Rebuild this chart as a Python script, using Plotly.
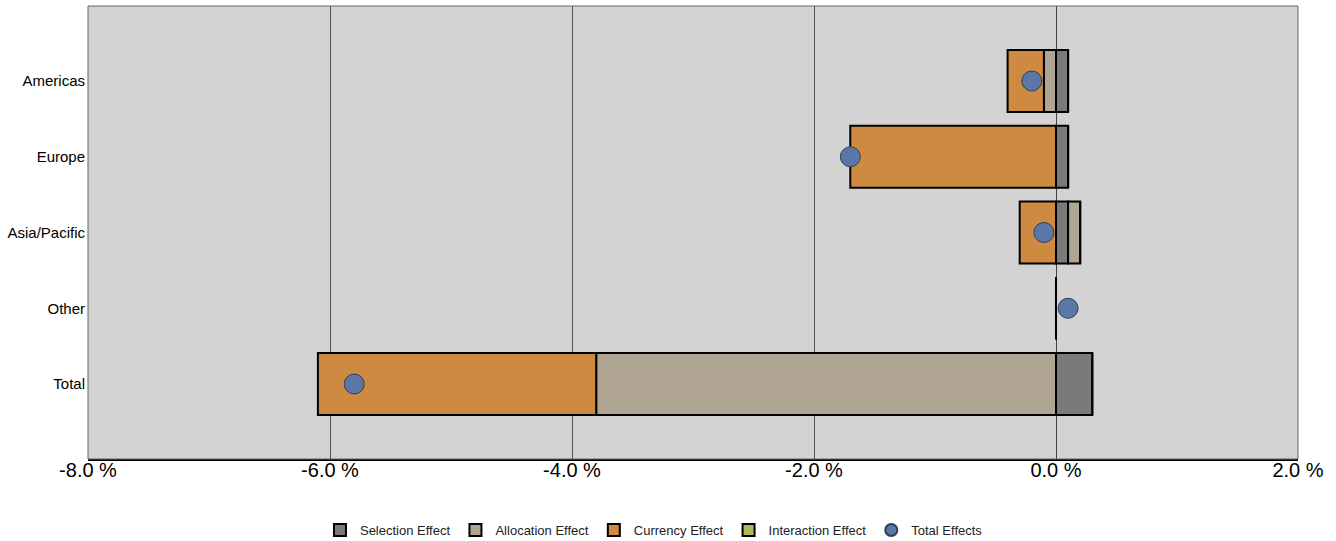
import plotly.graph_objects as go

categories = ["Americas", "Europe", "Asia/Pacific", "Other", "Total"]
selection = [0.1, 0.1, 0.1, 0.0, 0.3]
allocation = [-0.1, 0.0, 0.1, 0.0, -3.8]
currency = [-0.3, -1.7, -0.3, 0.0, -2.3]
interaction = [0.0, 0.0, 0.0, 0.0, 0.0]
total = [-0.2, -1.7, -0.1, 0.1, -5.8]

tick_vals = [-8, -6, -4, -2, 0, 2]
tick_text = ["-8.0 %", "-6.0 %", "-4.0 %", "-2.0 %", "0.0 %", "2.0 %"]

font_main = "Liberation Sans, Arial, sans-serif"

fig = go.Figure()
series = [
    ("Selection Effect", selection, "#7a7a7a"),
    ("Allocation Effect", allocation, "#afa592"),
    ("Currency Effect", currency, "#cd8a40"),
    ("Interaction Effect", interaction, "#abba5a"),
]
for name, vals, col in series:
    fig.add_trace(go.Bar(
        y=categories, x=vals, name=name, orientation="h", width=0.82,
        marker=dict(color=col, line=dict(color="black", width=2)),
    ))
fig.add_trace(go.Scatter(
    y=categories, x=total, name="Total Effects", mode="markers",
    marker=dict(color="#5b77a6", size=20, line=dict(color="#2e3e5c", width=1)),
))

fig.update_layout(
    width=1336, height=541,
    barmode="relative",
    paper_bgcolor="white", plot_bgcolor="#d3d3d3",
    margin=dict(l=88, r=38, t=6, b=82, autoexpand=False),
    showlegend=True,
    legend=dict(orientation="h", x=0.4895, xanchor="center", xref="container",
                y=-0.157, yanchor="middle", font=dict(family=font_main, size=13, color="#222"),
                itemsizing="constant", traceorder="normal"),
    xaxis=dict(range=[-8, 2], tickvals=tick_vals, ticktext=tick_text,
               showgrid=True, gridcolor="#555555", gridwidth=1,
               zeroline=True, zerolinecolor="#444444", zerolinewidth=1,
               showline=True, linecolor="black", linewidth=1.5,
               tickfont=dict(family=font_main, size=20, color="black"),
               ticks="", ticklabelstandoff=-8, automargin=False),
    yaxis=dict(type="category", categoryorder="array", categoryarray=categories,
               range=[4.99, -0.99], showgrid=False, zeroline=False,
               tickfont=dict(family=font_main, size=15, color="black"),
               ticks="", ticklabelstandoff=2, automargin=False),
    shapes=[dict(type="rect", xref="paper", yref="paper", x0=0, x1=1, y0=0, y1=1,
                 line=dict(color="#666666", width=1), layer="above")],
)

fig.write_html("out.html")
